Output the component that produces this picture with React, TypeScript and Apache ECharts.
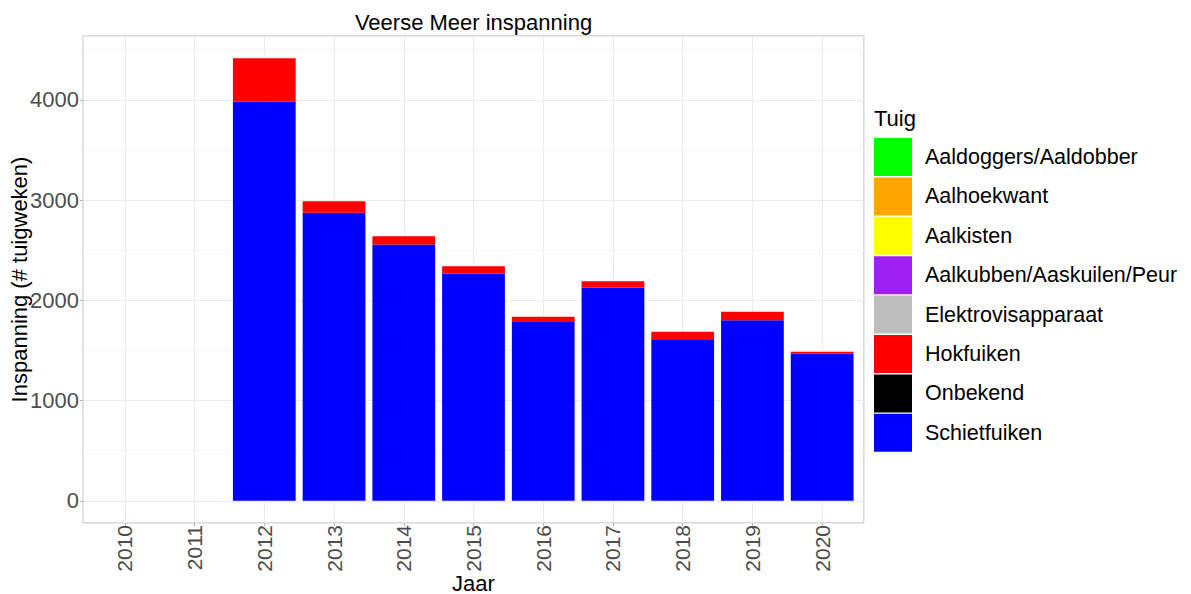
import React, { useEffect, useRef } from "react";
import * as echarts from "echarts";

const years = ["2010", "2011", "2012", "2013", "2014", "2015", "2016", "2017", "2018", "2019", "2020"];
const schietfuiken = [null, null, 3983, 2872, 2556, 2264, 1792, 2125, 1603, 1802, 1468];
const hokfuiken = [null, null, 432, 115, 83, 76, 44, 65, 84, 84, 19];
const onbekend: (number | null)[] = [];
const elektrovisapparaat: (number | null)[] = [];
const aalkubben: (number | null)[] = [];
const aalkisten: (number | null)[] = [];
const aalhoekwant: (number | null)[] = [];
const aaldoggers: (number | null)[] = [];
const yMajorTicks = [0, 1000, 2000, 3000, 4000];
const yMinorTicks = [500, 1500, 2500, 3500, 4500];

const legendOrder = [
  "Aaldoggers/Aaldobber",
  "Aalhoekwant",
  "Aalkisten",
  "Aalkubben/Aaskuilen/Peur",
  "Elektrovisapparaat",
  "Hokfuiken",
  "Onbekend",
  "Schietfuiken",
];

const FONT = "'Liberation Sans', Arial, sans-serif";

export default function App() {
  const ref = useRef<HTMLDivElement>(null);
  useEffect(() => {
    document.body.style.margin = "0";
    if (!ref.current) return;
    const chart = echarts.init(ref.current, undefined, { renderer: "svg" });

    const totals = years.map((_, i) => (schietfuiken[i] || 0) + (hokfuiken[i] || 0));
    const maxTotal = Math.max(...totals);
    const yMin = -0.05 * maxTotal;
    const yMax = maxTotal * 1.05;
    const n = years.length;
    const xMin = 0.4; // ggplot discrete expansion of 0.6 units
    const xMax = n + 0.6;

    // panel (ggplot panel area)
    const panelLeft = 83;
    const panelTop = 36;
    const panelWidth = 781;
    const panelHeight = 487;
    const unit = panelWidth / (xMax - xMin);
    const barGridLeft = panelLeft + (1 - 0.5 - xMin) * unit;
    const barGridWidth = n * unit;

    const mk = (name: string, vals: (number | null)[], color: string) => ({
      name,
      type: "bar",
      stack: "total",
      xAxisIndex: 1,
      yAxisIndex: 1,
      z: 3,
      barWidth: "90%",
      itemStyle: { color },
      data: vals,
    });

    const series: any[] = [
      mk("Schietfuiken", schietfuiken, "#0000FF"),
      mk("Hokfuiken", hokfuiken, "#FF0000"),
      mk("Onbekend", onbekend, "#000000"),
      mk("Elektrovisapparaat", elektrovisapparaat, "#BEBEBE"),
      mk("Aalkubben/Aaskuilen/Peur", aalkubben, "#A020F0"),
      mk("Aalkisten", aalkisten, "#FFFF00"),
      mk("Aalhoekwant", aalhoekwant, "#FFA500"),
      mk("Aaldoggers/Aaldobber", aaldoggers, "#00FF00"),
      {
        name: "__minor",
        type: "line",
        xAxisIndex: 0,
        yAxisIndex: 0,
        data: [],
        z: 1,
        markLine: {
          silent: true,
          z: 1,
          symbol: "none",
          label: { show: false },
          lineStyle: { color: "#F5F5F5", width: 1, type: "solid" },
          data: yMinorTicks.map((v) => ({ yAxis: v })),
        },
      },
    ];

    chart.setOption({
      animation: false,
      backgroundColor: "#FFFFFF",
      textStyle: { fontFamily: FONT },
      grid: [
        {
          left: panelLeft,
          top: panelTop,
          width: panelWidth,
          height: panelHeight,
          containLabel: false,
          outerBoundsMode: "none",
          show: true,
          borderColor: "#B3B3B3",
          borderWidth: 1,
          backgroundColor: "transparent",
        },
        {
          left: barGridLeft,
          top: panelTop,
          width: barGridWidth,
          height: panelHeight,
          containLabel: false,
          outerBoundsMode: "none",
          show: false,
        },
      ],
      graphic: [
        {
          type: "text",
          x: panelLeft + panelWidth / 2,
          y: 22,
          style: {
            text: "Veerse Meer inspanning",
            fill: "#000000",
            font: `22px ${FONT}`,
            textAlign: "center",
            textVerticalAlign: "middle",
          },
        },
        {
          type: "text",
          x: 874,
          y: 118,
          style: {
            text: "Tuig",
            fill: "#000000",
            font: `22px ${FONT}`,
            textAlign: "left",
            textVerticalAlign: "middle",
          },
        },
      ],
      legend: {
        orient: "vertical",
        left: 874,
        top: 138,
        padding: 0,
        itemWidth: 38,
        itemHeight: 38,
        itemGap: 1.4,
        icon: "rect",
        data: legendOrder,
        selectedMode: false,
        textStyle: {
          fontSize: 21.5,
          color: "#000000",
          fontFamily: FONT,
          padding: [0, 0, 0, 8],
        },
      },
      xAxis: [
        {
          type: "value",
          gridIndex: 0,
          min: xMin,
          max: xMax,
          minInterval: 1,
          maxInterval: 1,
          axisLine: { show: false },
          axisTick: { show: false },
          axisLabel: { show: false },
          splitLine: { show: true, lineStyle: { color: "#EBEBEB", width: 1 } },
        },
        {
          type: "category",
          gridIndex: 1,
          data: years,
          name: "Jaar",
          nameLocation: "middle",
          nameGap: 49,
          nameMoveOverlap: false,
          nameTextStyle: { fontSize: 22, color: "#000000", fontFamily: FONT },
          axisLine: { show: false, onZero: false },
          axisTick: { show: true, alignWithLabel: true, length: 3, lineStyle: { color: "#B3B3B3" } },
          axisLabel: {
            rotate: 90,
            margin: 2,
            fontSize: 21,
            color: "#4D4D4D",
            fontFamily: FONT,
            interval: 0,
          },
          splitLine: { show: false },
        },
      ],
      yAxis: [
        {
          type: "value",
          gridIndex: 0,
          min: yMin,
          max: yMax,
          minInterval: 1000,
          maxInterval: 1000,
          name: "Inspanning (# tuigweken)",
          nameLocation: "middle",
          nameGap: 53,
          nameMoveOverlap: false,
          nameRotate: 90,
          nameTextStyle: { fontSize: 22, color: "#000000", fontFamily: FONT },
          axisLine: { show: false },
          axisTick: { show: true, length: 3, lineStyle: { color: "#B3B3B3" } },
          axisLabel: {
            margin: 4,
            fontSize: 22,
            color: "#4D4D4D",
            fontFamily: FONT,
            showMinLabel: false,
            showMaxLabel: false,
            formatter: (v: number) => (yMajorTicks.includes(v) ? String(v) : ""),
          },
          splitLine: { show: true, lineStyle: { color: "#EBEBEB", width: 1 } },
        },
        {
          type: "value",
          gridIndex: 1,
          min: yMin,
          max: yMax,
          show: false,
          splitLine: { show: false },
        },
      ],
      series,
    });

    return () => chart.dispose();
  }, []);

  return <div ref={ref} style={{ width: 1191, height: 594 }} />;
}
